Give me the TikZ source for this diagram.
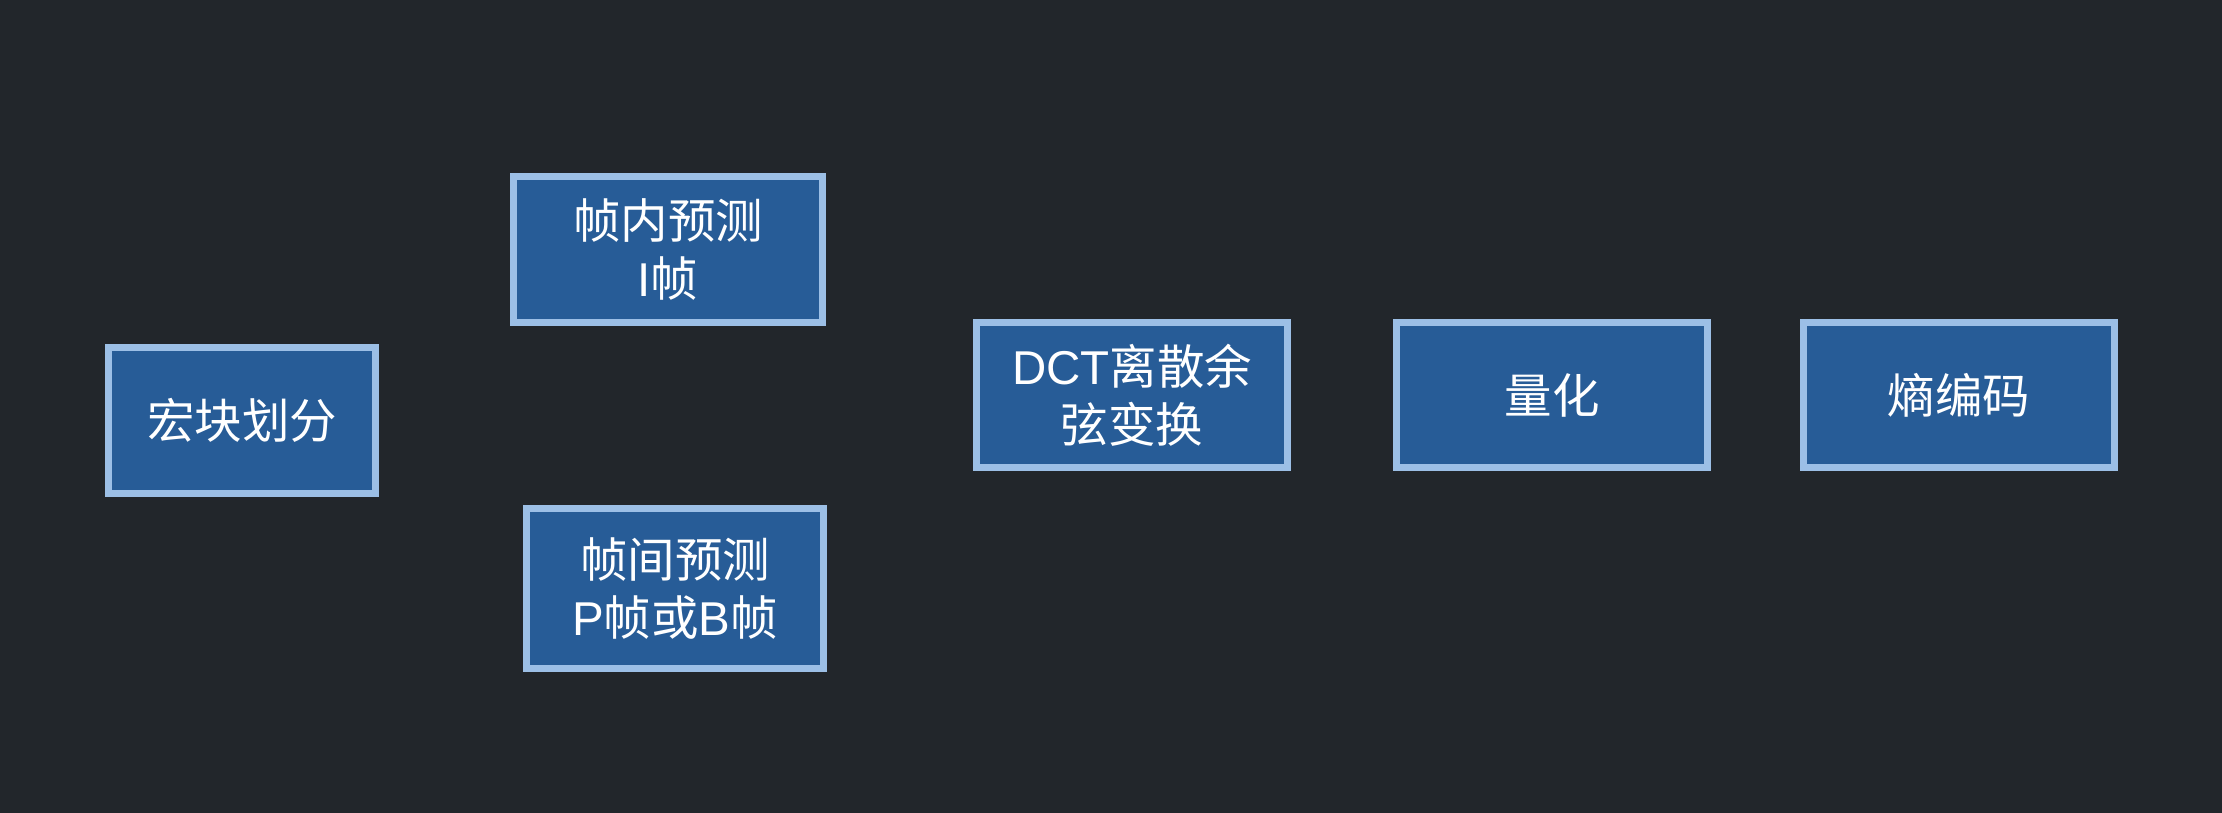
\documentclass[tikz,border=0pt]{standalone}
\usepackage{fontspec}
\setmainfont{Noto Sans CJK SC}
\newfontfamily\lat{Liberation Sans}
\usetikzlibrary{positioning}
\definecolor{bgdark}{HTML}{22262B}
\definecolor{boxfill}{HTML}{275C97}
\definecolor{boxline}{HTML}{9CBFE6}

\begin{document}
\begin{tikzpicture}[x=0.01cm,y=-0.01cm,node distance=1cm,
  stage/.style={draw=boxline,fill=boxfill,line width=0.07cm,text=white,
    align=center,inner sep=0pt,minimum height=1.45cm,minimum width=3.11cm,
    font=\fontsize{13.5}{16.5}\selectfont}]

% background
  \fill[bgdark] (0,0) rectangle (2222,813);
  \useasboundingbox (0,0) rectangle (2222,813);

% define the stages
  \node[stage, minimum width=2.67cm, minimum height=1.46cm] (split) at (242,420.5)
{宏块划分};
  \node[stage, minimum width=3.09cm, minimum height=1.46cm] (intra) at (668,249.5)
{帧内预测\\{\lat I}帧};
  \node[stage, minimum width=2.97cm, minimum height=1.60cm] (inter) at (675,588.5)
{帧间预测\\{\lat P}帧或{\lat B}帧};
  \node[stage]   (dct)   at (1132,395)
{{\lat DCT}离散余\\弦变换};
  \node[stage]   (quant) [right=1.02cm of dct]
{量化};
  \node[stage, minimum width=3.10cm]   (entropy) [right=0.89cm of quant]
{熵编码};

\end{tikzpicture}
\end{document}
